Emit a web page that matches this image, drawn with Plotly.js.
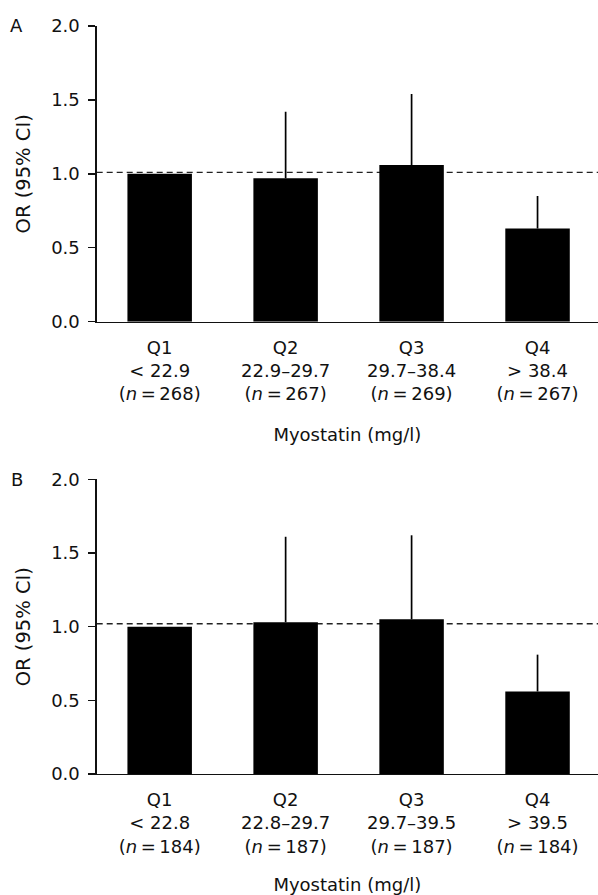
<!DOCTYPE html>
<html>
<head>
<meta charset="utf-8">
<script src="https://cdn.plot.ly/plotly-3.0.1.min.js"></script>
<style>html,body{margin:0;padding:0;background:#fff;}#chart{width:598px;height:895px;}</style>
</head>
<body>
<div id="chart"></div>
<script>
// ---- data ----
const quartiles = ['Q1', 'Q2', 'Q3', 'Q4'];

const rangesA = ['< 22.9', '22.9–29.7', '29.7–38.4', '> 38.4'];
const nA = [268, 267, 269, 267];
const orA = [1.00, 0.97, 1.06, 0.63];
const upperA = [1.00, 1.42, 1.54, 0.85];
const refA = 1.01;

const rangesB = ['< 22.8', '22.8–29.7', '29.7–39.5', '> 39.5'];
const nB = [184, 187, 187, 184];
const orB = [1.00, 1.03, 1.05, 0.56];
const upperB = [1.00, 1.61, 1.62, 0.81];
const refB = 1.02;

const yTicks = [0, 0.5, 1.0, 1.5, 2.0];
const xTitle = 'Myostatin (mg/l)';
const yTitle = 'OR (95% CI)';

// ---- build ----
const FONT = '"DejaVu Sans", "Liberation Sans", Arial, sans-serif';
const FS = 18;
const W = 598, H = 895;
function tickText(ranges, ns) {
  return quartiles.map((q, i) => q + '<br>' + ranges[i] + '<br>(<i>n</i>\u2009=\u2009' + ns[i] + ')');
}
function barTrace(vals, upper, xa, ya) {
  return {
    type: 'bar', x: quartiles, y: vals, xaxis: xa, yaxis: ya,
    marker: {color: '#000', line: {width: 0}},
    error_y: {type: 'data', symmetric: false,
      array: upper.map((u, i) => +(u - vals[i]).toFixed(3)),
      arrayminus: vals.map(() => 0),
      width: 0, thickness: 1.7, color: '#000'},
    showlegend: false, hoverinfo: 'x+y'
  };
}
const xDom = [96.7 / W, 1];
const yDomA = [(H - 321.7) / H, (H - 26) / H];
const yDomB = [(H - 774) / H, (H - 479.3) / H];

function xAxis(anchor, ranges, ns) {
  return {
    domain: xDom, anchor: anchor, type: 'category',
    range: [-0.5, 3.48], showgrid: false, zeroline: false,
    showline: true, linecolor: '#111', linewidth: 1.3,
    ticks: '', tickvals: quartiles, ticktext: tickText(ranges, ns),
    tickfont: {family: FONT, size: FS, color: '#111'},
    ticklabelstandoff: 9,
    title: {text: xTitle, font: {family: FONT, size: FS, color: '#111'}, standoff: 25},
    automargin: false, fixedrange: true
  };
}
function yAxis(anchor, dom) {
  return {
    domain: dom, anchor: anchor, range: [0, 2],
    showgrid: false, zeroline: false,
    showline: true, linecolor: '#111', linewidth: 1.3,
    ticks: 'outside', ticklen: 7, tickwidth: 1.3, tickcolor: '#111',
    tickvals: yTicks, tickformat: '.1f',
    tickfont: {family: FONT, size: FS, color: '#111'},
    ticklabelstandoff: 5,
    title: {text: yTitle, font: {family: FONT, size: 19.5, color: '#111'}, standoff: 15},
    automargin: false, fixedrange: true
  };
}

const data = [
  barTrace(orA, upperA, 'x', 'y'),
  barTrace(orB, upperB, 'x2', 'y2')
];

const layout = {
  width: W, height: H,
  margin: {l: 0, r: 0, t: 0, b: 0, pad: 0},
  paper_bgcolor: '#fff', plot_bgcolor: '#fff',
  bargap: 0.488,
  font: {family: FONT, size: FS, color: '#111'},
  xaxis: xAxis('y', rangesA, nA),
  yaxis: yAxis('x', yDomA),
  xaxis2: xAxis('y2', rangesB, nB),
  yaxis2: yAxis('x2', yDomB),
  shapes: [
    {type: 'line', xref: 'x domain', yref: 'y', x0: 0, x1: 1, y0: refA, y1: refA,
     line: {color: '#222', width: 1.4, dash: '6px,4px'}, layer: 'below'},
    {type: 'line', xref: 'x2 domain', yref: 'y2', x0: 0, x1: 1, y0: refB, y1: refB,
     line: {color: '#222', width: 1.4, dash: '6px,4px'}, layer: 'below'}
  ],
  annotations: [
    {text: 'A', xref: 'paper', yref: 'paper', x: 16.5 / W, y: (H - 26) / H,
     xanchor: 'center', yanchor: 'middle', showarrow: false,
     font: {family: FONT, size: FS, color: '#111'}},
    {text: 'B', xref: 'paper', yref: 'paper', x: 16.5 / W, y: (H - 479.3) / H,
     xanchor: 'center', yanchor: 'middle', showarrow: false,
     font: {family: FONT, size: FS, color: '#111'}}
  ]
};

Plotly.newPlot('chart', data, layout, {staticPlot: true, displayModeBar: false});
</script>
</body>
</html>
